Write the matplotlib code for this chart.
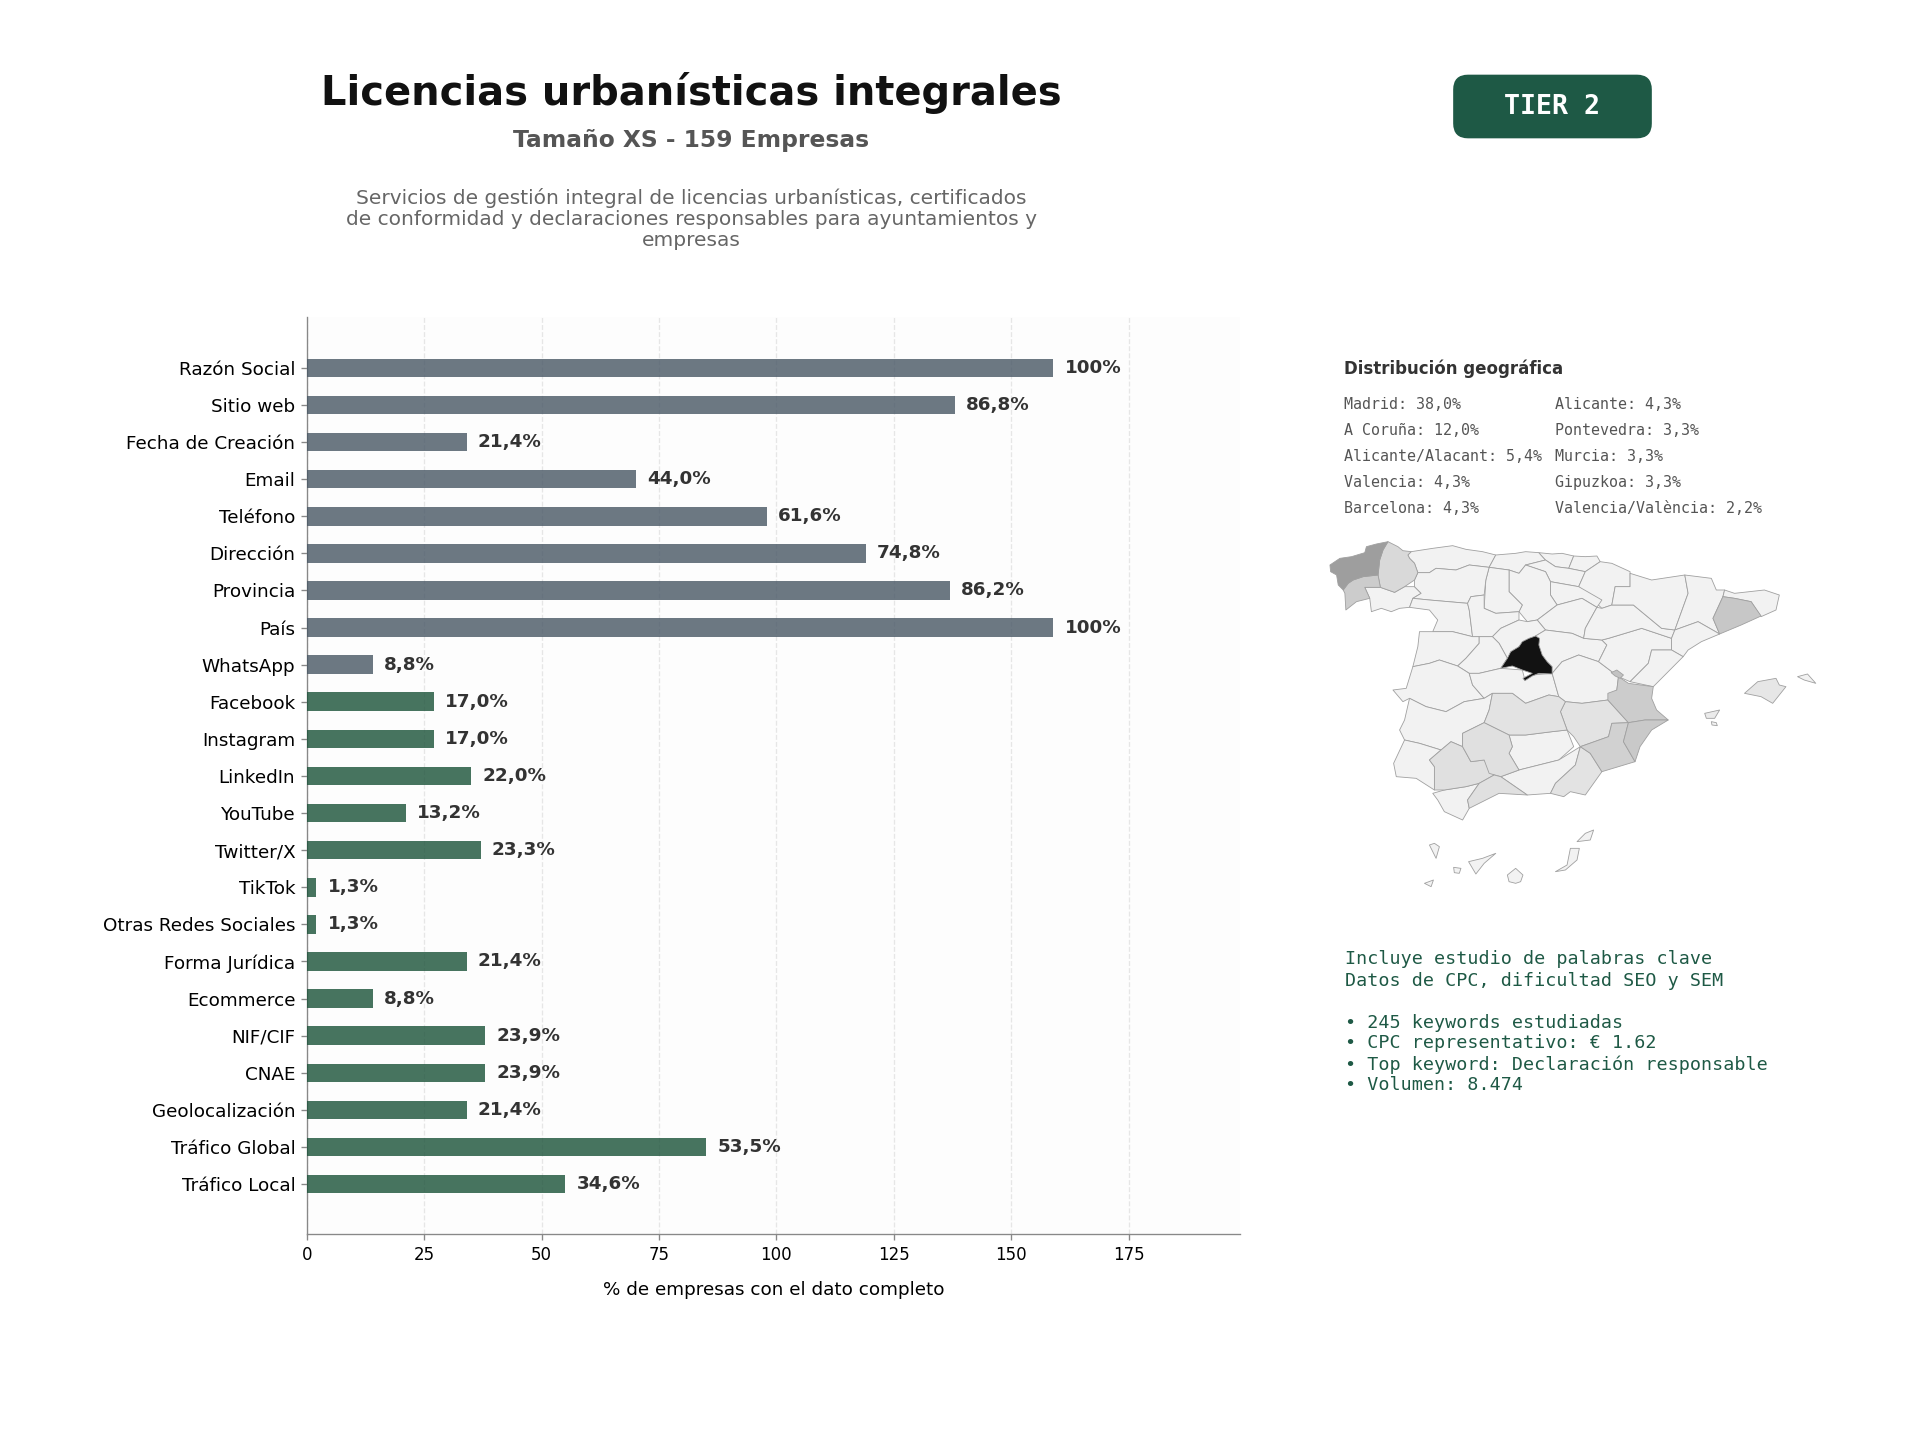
import matplotlib
matplotlib.use("Agg")
import matplotlib.pyplot as plt
from matplotlib.patches import FancyBboxPatch, Polygon
import numpy as np

W, H = 1920, 1440
TOTAL = 159

fields = ["Razón Social","Sitio web","Fecha de Creación","Email","Teléfono","Dirección","Provincia","País","WhatsApp",
          "Facebook","Instagram","LinkedIn","YouTube","Twitter/X","TikTok","Otras Redes Sociales","Forma Jurídica",
          "Ecommerce","NIF/CIF","CNAE","Geolocalización","Tráfico Global","Tráfico Local"]
counts = [159,138,34,70,98,119,137,159,14,27,27,35,21,37,2,2,34,14,38,38,34,85,55]
labels = ["100%","86,8%","21,4%","44,0%","61,6%","74,8%","86,2%","100%","8,8%","17,0%","17,0%","22,0%","13,2%",
          "23,3%","1,3%","1,3%","21,4%","8,8%","23,9%","23,9%","21,4%","53,5%","34,6%"]
n_basic = 9
geo_left = ["Madrid: 38,0%","A Coruña: 12,0%","Alicante/Alacant: 5,4%","Valencia: 4,3%","Barcelona: 4,3%"]
geo_right = ["Alicante: 4,3%","Pontevedra: 3,3%","Murcia: 3,3%","Gipuzkoa: 3,3%","Valencia/València: 2,2%"]
notes = ["Incluye estudio de palabras clave","Datos de CPC, dificultad SEO y SEM","",
         "• 245 keywords estudiadas","• CPC representativo: € 1.62","• Top keyword: Declaración responsable","• Volumen: 8.474"]

province_shade = {"A Coruña":0.62,"Lugo":0.85,"Pontevedra":0.80,"Madrid":0.07,"Barcelona":0.78,"Valencia":0.80,"Ademuz":0.76,"Alicante":0.79,
    "Murcia":0.82,"Albacete":0.89,"Ciudad Real":0.89,"Sevilla":0.88,"Cordoba":0.88,"Malaga":0.88,"Almeria":0.89,"Mallorca":0.90,"Ibiza":0.92}
default_shade = 0.95
provinces = {
"A Coruña":[(30,105),(45,95),(60,85),(95,80),(135,68),(140,50),(170,42),(205,35),(190,60),(180,90),(175,135),(130,140),(100,150),(85,160),(70,180),(55,165),(50,135),(32,125)],
"Lugo":[(180,90),(190,60),(205,35),(235,50),(250,62),(275,65),(265,75),(270,85),(285,100),(295,128),(285,150),(255,170),(225,187),(182,172),(175,135)],
"Pontevedra":[(85,160),(100,150),(130,140),(175,135),(182,172),(135,172),(150,205),(110,215),(78,240),(75,190),(70,180)],
"Ourense":[(135,172),(182,172),(225,187),(255,170),(285,170),(305,190),(280,205),(270,232),(240,235),(215,245),(185,235),(155,245),(150,205)],
"Asturias":[(275,65),(340,55),(400,47),(440,58),(490,65),(530,75),(510,112),(450,105),(410,120),(350,115),(330,128),(295,128),(285,100),(270,85),(265,75)],
"Cantabria":[(530,75),(590,70),(620,65),(660,68),(680,90),(620,105),(600,130),(570,120),(510,112)],
"Vizcaya":[(660,68),(700,72),(730,70),(765,78),(750,115),(710,110),(680,90)],
"Gipuzkoa":[(765,78),(800,80),(835,78),(845,95),(800,125),(750,115)],
"Alava":[(620,105),(680,90),(710,110),(750,115),(800,125),(780,170),(695,155),(680,125)],
"Navarra":[(800,125),(845,95),(880,100),(935,125),(935,170),(890,170),(880,225),(850,235),(780,170)],
"La Rioja":[(695,155),(780,170),(850,210),(835,232),(790,205),(715,225),(695,195)],
"Burgos":[(600,130),(620,105),(680,125),(695,155),(695,195),(715,225),(655,270),(625,275),(600,245),(610,225),(570,185),(570,120)],
"Palencia":[(510,112),(570,120),(570,185),(610,225),(600,245),(530,250),(495,235),(500,150)],
"Leon":[(295,128),(330,128),(350,115),(410,120),(450,105),(510,112),(500,150),(495,195),(455,200),(445,220),(330,210),(280,205),(305,190),(285,170),(285,150)],
"Zamora":[(280,205),(330,210),(445,220),(450,240),(460,320),(400,305),(340,305),(355,270),(330,240),(270,232)],
"Valladolid":[(455,200),(495,195),(495,235),(530,250),(600,245),(600,270),(545,295),(520,320),(480,320),(460,320),(450,240),(445,220)],
"Soria":[(655,270),(715,225),(790,205),(835,232),(800,295),(795,325),(760,310),(720,305),(680,300)],
"Segovia":[(600,270),(625,275),(655,270),(680,300),(650,318),(600,350),(565,385),(540,340),(520,320),(545,295)],
"Salamanca":[(300,305),(340,305),(400,305),(460,320),(480,320),(480,340),(440,385),(415,408),(360,390),(330,400),(280,410),(295,350)],
"Avila":[(480,320),(520,320),(540,340),(565,385),(545,415),(480,430),(450,430),(415,408),(440,385),(480,340)],
"Madrid":[(650,318),(662,325),(660,345),(670,375),(685,395),(700,410),(700,432),(660,430),(640,438),(618,452),(612,445),(640,430),(610,420),(580,408),(545,415),(565,385),(575,365),(600,350),(610,335),(630,325)],
"Guadalajara":[(680,300),(720,305),(760,310),(795,325),(850,330),(865,345),(840,395),(780,375),(730,395),(700,430),(680,395),(655,355),(662,330),(650,318)],
"Caceres":[(280,410),(330,400),(360,390),(415,408),(450,430),(460,465),(495,505),(435,515),(380,545),(320,530),(270,505),(250,515),(220,480),(260,475)],
"Toledo":[(450,430),(480,430),(545,415),(610,420),(618,450),(640,435),(700,430),(720,500),(690,495),(620,520),(580,490),(520,490),(495,505),(460,465)],
"Cuenca":[(700,430),(730,395),(780,375),(840,395),(900,440),(895,480),(868,510),(790,520),(740,515),(720,500)],
"Valencia":[(900,440),(930,460),(1005,470),(1000,505),(1015,540),(1050,570),(980,570),(930,578),(900,545),(868,510),(868,490),(895,480)],
"Ademuz":[(878,428),(895,420),(915,435),(905,445),(890,438)],
"Teruel":[(850,330),(870,325),(970,295),(1060,325),(1060,360),(1000,360),(990,400),(935,455),(900,440),(840,395),(865,345)],
"Zaragoza":[(850,235),(880,225),(945,225),(1030,295),(1070,300),(1060,325),(970,295),(870,325),(850,330),(795,325),(800,295),(835,232)],
"Huesca":[(935,130),(1000,150),(1100,135),(1110,190),(1070,300),(1030,295),(945,225),(880,225),(890,170),(935,170)],
"Lleida":[(1100,135),(1180,145),(1195,180),(1220,180),(1215,200),(1185,265),(1205,312),(1140,275),(1070,300),(1110,190)],
"Girona":[(1220,180),(1250,190),(1340,180),(1385,195),(1375,240),(1330,260),(1300,215),(1250,205),(1215,200)],
"Barcelona":[(1215,200),(1250,205),(1300,215),(1330,258),(1270,285),(1205,312),(1185,265)],
"Tarragona":[(1070,300),(1140,275),(1205,312),(1150,335),(1110,360),(1095,380),(1060,360),(1060,325)],
"Castellon":[(1060,360),(1095,380),(1070,405),(1045,430),(1005,470),(935,455),(990,400),(1000,360)],
"Alicante":[(930,578),(980,570),(1050,570),(1000,600),(965,650),(950,695),(915,635)],
"Murcia":[(785,650),(870,620),(880,580),(930,578),(915,635),(950,695),(850,725),(815,670)],
"Albacete":[(740,515),(790,520),(868,510),(930,578),(880,580),(870,620),(785,650),(765,620),(745,600),(725,545)],
"Ciudad Real":[(520,490),(580,490),(620,520),(690,495),(720,500),(740,515),(725,545),(745,600),(700,605),(620,615),(570,615),(495,578),(510,540)],
"Badajoz":[(270,505),(320,530),(380,545),(435,515),(495,505),(520,490),(510,540),(495,578),(430,610),(430,650),(395,635),(365,660),(300,640),(255,630),(240,600),(255,570)],
"Huelva":[(255,630),(300,640),(365,660),(330,690),(345,710),(345,780),(290,745),(230,740),(222,700)],
"Sevilla":[(330,690),(365,660),(395,635),(430,650),(455,695),(495,690),(525,735),(480,760),(440,770),(375,780),(345,780),(345,710)],
"Cordoba":[(430,610),(495,578),(570,615),(580,650),(570,670),(600,720),(545,740),(510,730),(495,690),(455,695),(430,650)],
"Jaen":[(570,615),(620,615),(700,605),(745,600),(765,650),(720,690),(600,720),(570,670),(580,650)],
"Granada":[(600,720),(720,690),(785,650),(770,705),(710,760),(695,790),(625,795),(545,740)],
"Almeria":[(815,670),(850,725),(800,795),(755,785),(735,800),(695,790),(710,760),(770,705),(785,650)],
"Malaga":[(445,810),(480,760),(525,735),(545,740),(625,795),(540,790),(450,835)],
"Cadiz":[(340,790),(375,780),(440,770),(480,760),(445,810),(450,835),(430,870),(375,845),(355,810)],
"Mallorca":[(1280,490),(1320,455),(1375,445),(1385,465),(1405,470),(1365,520),(1330,500)],
"Menorca":[(1440,440),(1470,432),(1495,460),(1460,450)],
"Ibiza":[(1160,550),(1205,540),(1190,565),(1165,565)],
"Formentera":[(1180,575),(1195,578),(1198,587),(1182,585)],
"La Palma":[(330,945),(345,940),(360,950),(350,985)],
"Tenerife":[(448,995),(490,985),(530,970),(495,1000),(470,1032)],
"La Gomera":[(403,1012),(425,1015),(420,1030),(405,1028)],
"El Hierro":[(315,1060),(342,1050),(335,1070)],
"Gran Canaria":[(565,1035),(590,1015),(612,1035),(605,1055),(590,1060),(570,1055)],
"Fuerteventura":[(710,1025),(745,1005),(755,955),(782,955),(775,990),(740,1020)],
"Lanzarote":[(775,935),(800,910),(825,900),(815,930)],
}

plt.rcParams["font.family"] = "DejaVu Sans"
fig = plt.figure(figsize=(16, 12), dpi=120)
fig.patch.set_facecolor("white")

def px(x, y):
    return x / W, 1 - y / H

def put(x, y, s, **kw):
    return fig.text(*px(x, y), s, **kw)

# Bars
ax = fig.add_axes([307/W, 1 - 1234.2/H, (1240-307)/W, (1234.2-317)/H])
ax.set_facecolor("#fdfdfd")
y = np.arange(len(fields))
colors = ["#485764"] * n_basic + ["#1a5238"] * (len(fields) - n_basic)
ax.barh(y, counts, height=0.5, color=colors, alpha=0.8, zorder=3)
for yi, c, t in zip(y, counts, labels):
    ax.text(c + TOTAL*0.015, yi, t, va="center", ha="left", fontsize=11, fontweight="bold", color="#333333", zorder=4)
ax.set_yticks(y, fields, fontsize=11)
ax.set_ylim(23.35, -1.37)
ax.set_xlim(0, TOTAL * 1.25)
ax.set_xticks(np.arange(0, 176, 25))
ax.tick_params(axis="x", labelsize=10, color="#888888")
ax.tick_params(axis="y", color="#888888")
ax.set_xlabel("% de empresas con el dato completo", fontsize=11, labelpad=10)
ax.grid(axis="x", linestyle="--", color="#d8d8d8", alpha=0.6, linewidth=0.8, zorder=1)
ax.set_axisbelow(True)
for s in ("top", "right"):
    ax.spines[s].set_visible(False)
for s in ("left", "bottom"):
    ax.spines[s].set_color("#888888")

# Header
put(691, 93, "Licencias urbanísticas integrales", ha="center", va="center", fontsize=24, fontweight="bold", color="#111111")
put(691, 141, "Tamaño XS - 159 Empresas", ha="center", va="center", fontsize=14, fontweight="bold", color="#555555")
put(691, 219, "Servicios de gestión integral de licencias urbanísticas, certificados\nde conformidad y declaraciones responsables para ayuntamientos y\nempresas",
    ha="center", va="center", fontsize=12.05, color="#666666", linespacing=1.13)

# Badge
bg = fig.add_axes([0, 0, 1, 1], facecolor="none", zorder=-1)
bg.set_xlim(0, W); bg.set_ylim(H, 0); bg.axis("off")
bg.add_patch(FancyBboxPatch((1454+12, 75.5+12), 197-24, 62-24, boxstyle="round,pad=12,rounding_size=14",
                            facecolor="#1e5945", edgecolor="#1e5945", linewidth=1))
put(1552, 107, "TIER 2", ha="center", va="center", fontsize=16, fontweight="bold", family="DejaVu Sans Mono", color="white")

# Geographic panel
put(1343.5, 369, "Distribución geográfica", ha="left", va="center", fontsize=10, fontweight="bold", color="#333333")
for i, (a, b) in enumerate(zip(geo_left, geo_right)):
    yy = 404.5 + i * 26
    put(1343.5, yy, a, ha="left", va="center", fontsize=9, family="DejaVu Sans Mono", color="#555555")
    put(1555, yy, b, ha="left", va="center", fontsize=9, family="DejaVu Sans Mono", color="#555555")

# Map: province outlines in the crop's coordinates
m = fig.add_axes([1320/W, 1 - 910/H, 520/W, 380/H], facecolor="none")
m.set_xlim(0, 1568); m.set_ylim(1140, 0); m.axis("off")
for name, pts in provinces.items():
    g = province_shade.get(name, default_shade)
    m.add_patch(Polygon(pts, closed=True, facecolor=(g, g, g), edgecolor="#a0a0a0", linewidth=0.5, joinstyle="round", zorder=2-g))

# Notes
for i, t in enumerate(notes):
    put(1345, 959.5 + i * 21.0, t, ha="left", va="center", fontsize=11, family="DejaVu Sans Mono", color="#1e5945")

fig.savefig("out.png", dpi=120, facecolor="white")
